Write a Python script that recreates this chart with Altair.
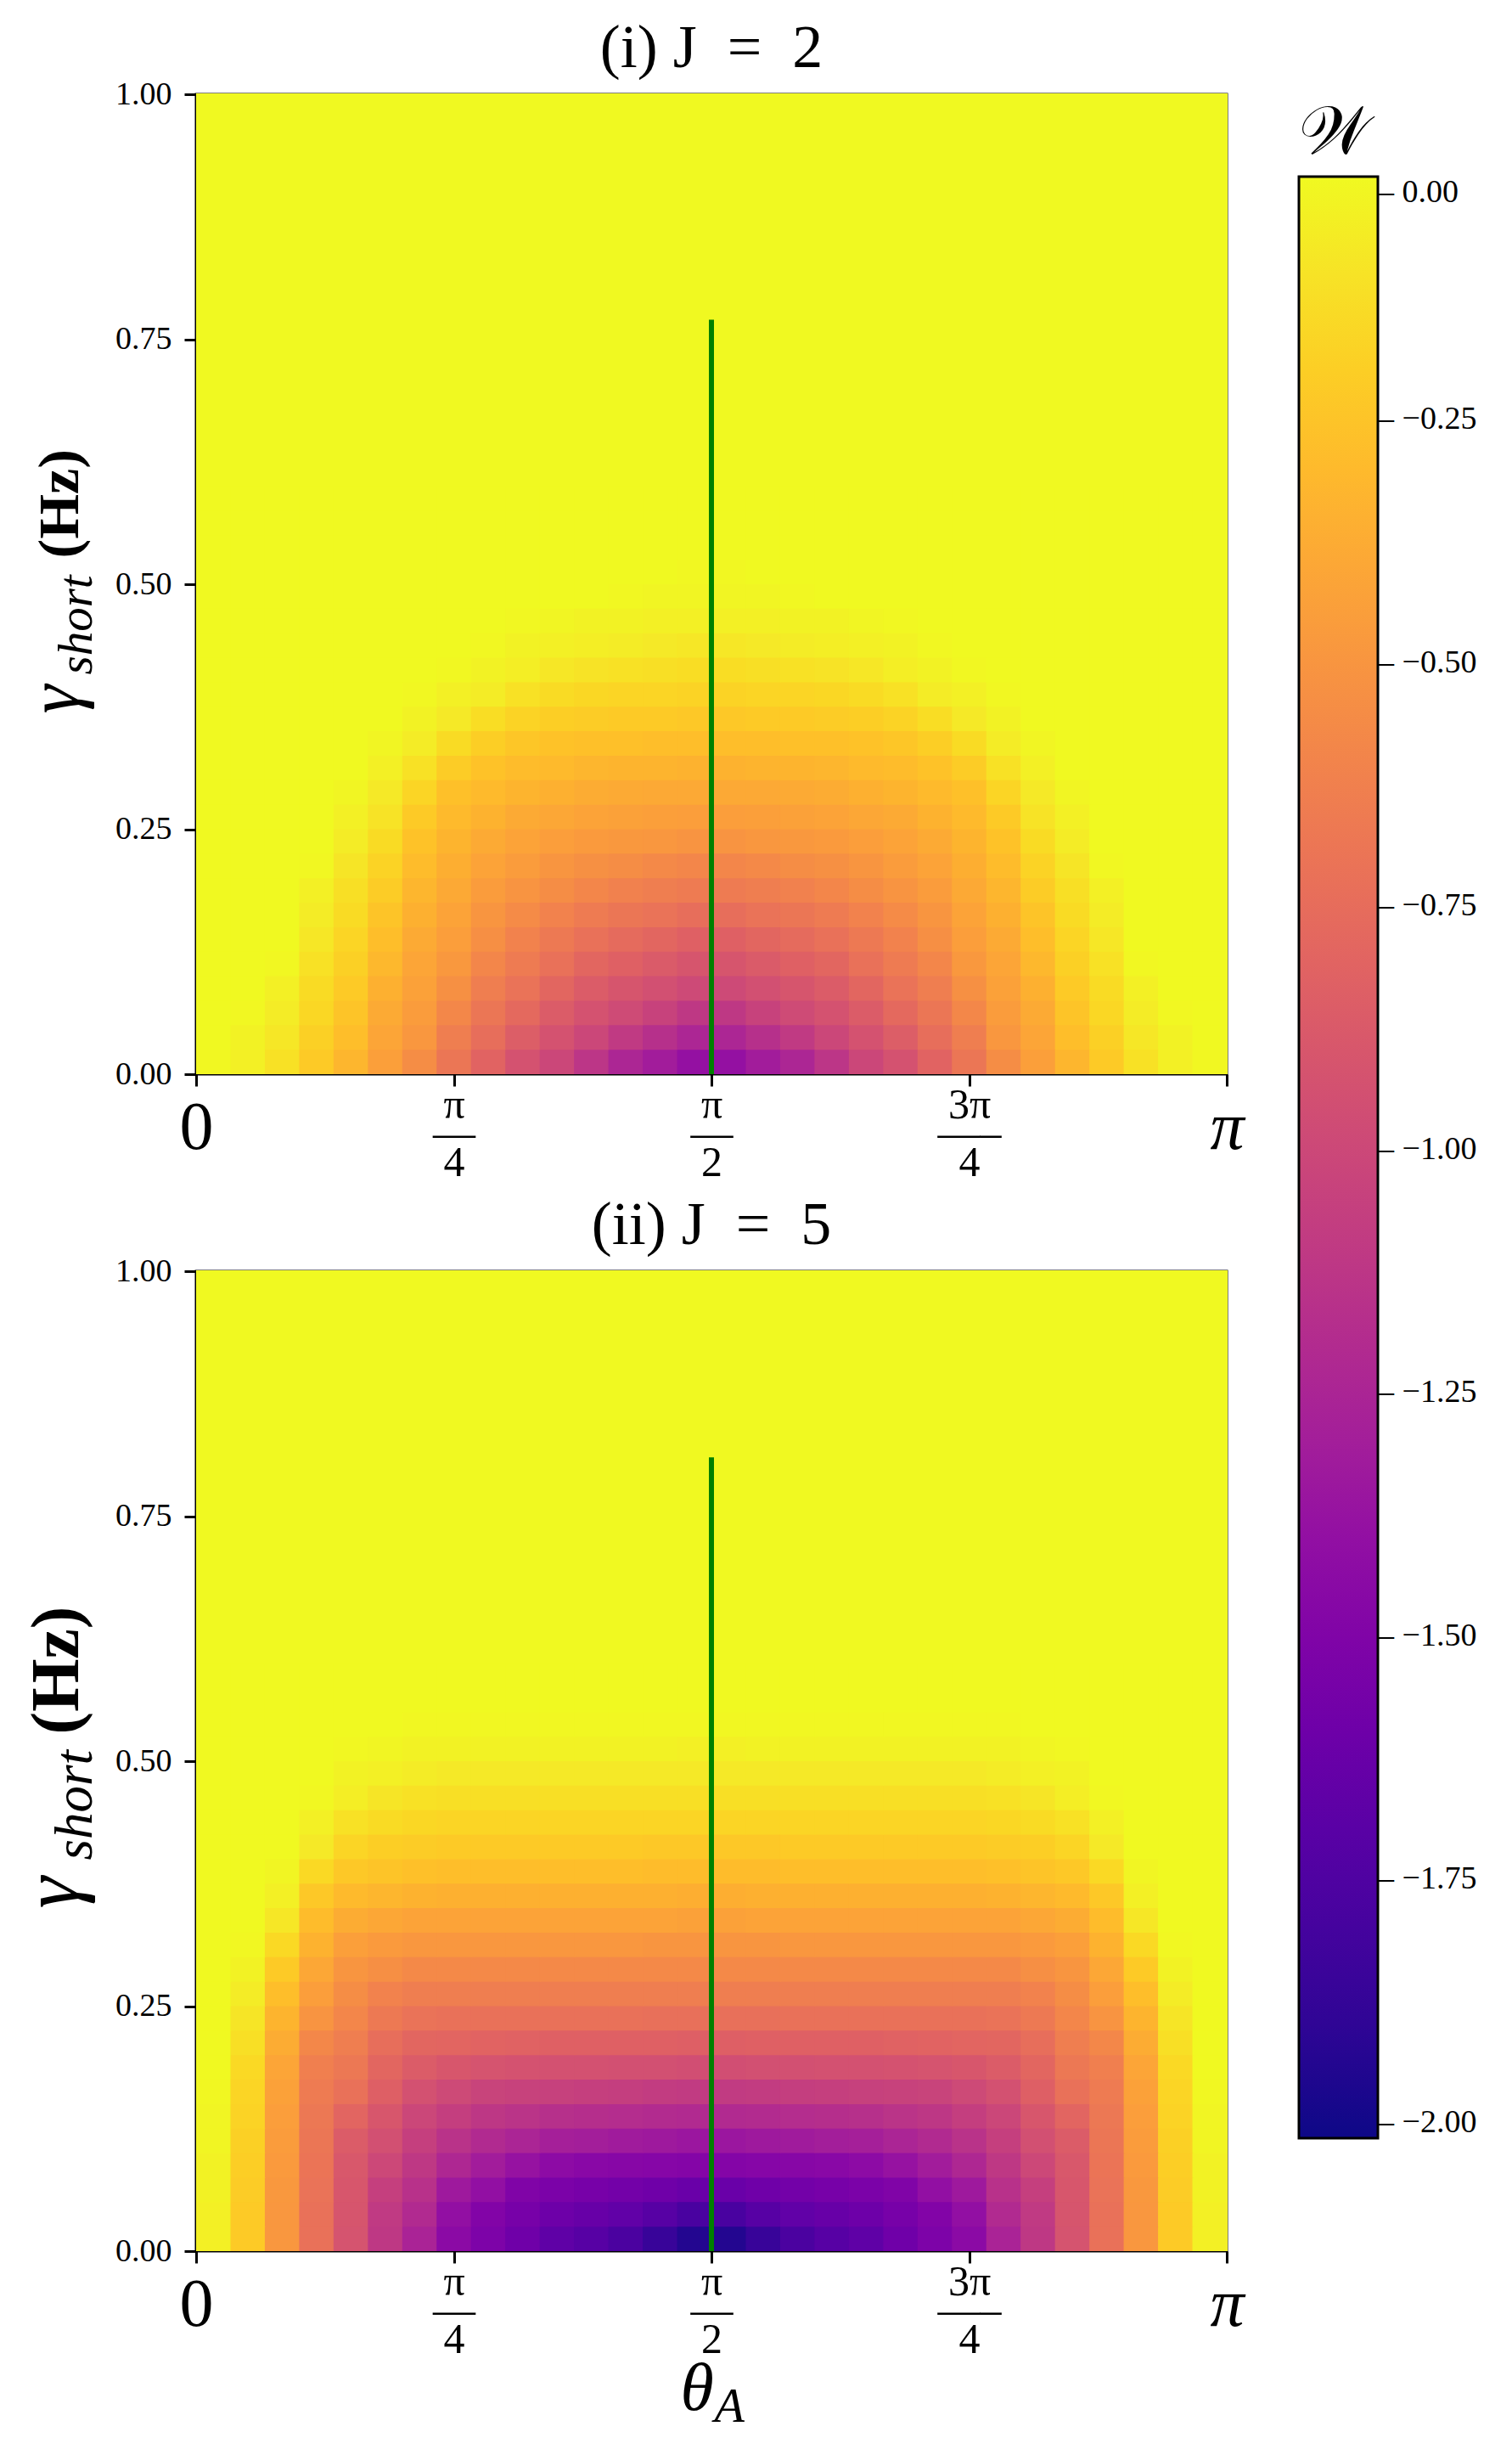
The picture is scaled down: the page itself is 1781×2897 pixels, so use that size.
import math
import pandas as pd
import altair as alt

PI = math.pi
FONT = "Liberation Serif"

# ---------------- data ----------------
N_HALF = 15                      # columns from theta = 0 to pi/2 (map is symmetric about pi/2)
N_COLS = 2 * N_HALF
THETA_EDGES = [PI * k / N_COLS for k in range(N_COLS + 1)]
GAMMA_EDGES = [0.025 * i for i in range(25)]     # 0 ... 0.6
TOP_BAND = [0.6, 1.0]                            # gamma band that is uniformly zero

# W values, rows = gamma bands (0-0.025, 0.025-0.05, ...), cols = theta from 0 to pi/2
W_J2_HALF = [
    [-0.01, -0.04, -0.11, -0.22, -0.32, -0.44, -0.55, -0.69, -0.81, -0.93, -1.01, -1.13, -1.24, -1.31, -1.39],
    [0.00, -0.03, -0.08, -0.19, -0.28, -0.41, -0.49, -0.64, -0.74, -0.85, -0.93, -1.01, -1.10, -1.17, -1.24],
    [0.00, -0.01, -0.06, -0.16, -0.25, -0.38, -0.46, -0.58, -0.69, -0.77, -0.86, -0.93, -0.98, -1.04, -1.11],
    [0.00, 0.00, -0.04, -0.14, -0.22, -0.35, -0.43, -0.53, -0.64, -0.71, -0.79, -0.86, -0.91, -0.95, -0.99],
    [0.00, 0.00, -0.01, -0.11, -0.19, -0.31, -0.41, -0.48, -0.59, -0.66, -0.72, -0.79, -0.83, -0.87, -0.91],
    [0.00, 0.00, 0.00, -0.08, -0.17, -0.28, -0.38, -0.45, -0.54, -0.61, -0.67, -0.72, -0.76, -0.79, -0.83],
    [0.00, 0.00, 0.00, -0.06, -0.14, -0.25, -0.35, -0.42, -0.50, -0.56, -0.61, -0.66, -0.69, -0.71, -0.74],
    [0.00, 0.00, 0.00, -0.04, -0.12, -0.21, -0.32, -0.39, -0.46, -0.51, -0.55, -0.59, -0.62, -0.64, -0.66],
    [0.00, 0.00, 0.00, -0.01, -0.09, -0.18, -0.29, -0.36, -0.42, -0.46, -0.50, -0.53, -0.55, -0.57, -0.59],
    [0.00, 0.00, 0.00, 0.00, -0.06, -0.14, -0.26, -0.33, -0.38, -0.42, -0.45, -0.47, -0.48, -0.49, -0.51],
    [0.00, 0.00, 0.00, 0.00, -0.04, -0.10, -0.22, -0.30, -0.34, -0.38, -0.40, -0.42, -0.43, -0.44, -0.45],
    [0.00, 0.00, 0.00, 0.00, -0.02, -0.07, -0.17, -0.27, -0.30, -0.33, -0.35, -0.37, -0.38, -0.39, -0.39],
    [0.00, 0.00, 0.00, 0.00, 0.00, -0.04, -0.11, -0.21, -0.26, -0.29, -0.30, -0.32, -0.33, -0.33, -0.34],
    [0.00, 0.00, 0.00, 0.00, 0.00, -0.02, -0.06, -0.14, -0.20, -0.24, -0.26, -0.27, -0.27, -0.28, -0.28],
    [0.00, 0.00, 0.00, 0.00, 0.00, 0.00, -0.03, -0.07, -0.13, -0.18, -0.20, -0.21, -0.22, -0.22, -0.23],
    [0.00, 0.00, 0.00, 0.00, 0.00, 0.00, -0.01, -0.04, -0.06, -0.11, -0.14, -0.16, -0.17, -0.17, -0.18],
    [0.00, 0.00, 0.00, 0.00, 0.00, 0.00, 0.00, -0.01, -0.03, -0.05, -0.08, -0.10, -0.11, -0.12, -0.13],
    [0.00, 0.00, 0.00, 0.00, 0.00, 0.00, 0.00, 0.00, -0.01, -0.03, -0.04, -0.05, -0.06, -0.07, -0.08],
    [0.00, 0.00, 0.00, 0.00, 0.00, 0.00, 0.00, 0.00, 0.00, -0.01, -0.02, -0.03, -0.03, -0.04, -0.04],
    [0.00, 0.00, 0.00, 0.00, 0.00, 0.00, 0.00, 0.00, 0.00, 0.00, 0.00, 0.00, -0.01, -0.02, -0.02],
    [0.00, 0.00, 0.00, 0.00, 0.00, 0.00, 0.00, 0.00, 0.00, 0.00, 0.00, 0.00, 0.00, 0.00, -0.01],
    [0.00, 0.00, 0.00, 0.00, 0.00, 0.00, 0.00, 0.00, 0.00, 0.00, 0.00, 0.00, 0.00, 0.00, 0.00],
    [0.00, 0.00, 0.00, 0.00, 0.00, 0.00, 0.00, 0.00, 0.00, 0.00, 0.00, 0.00, 0.00, 0.00, 0.00],
    [0.00, 0.00, 0.00, 0.00, 0.00, 0.00, 0.00, 0.00, 0.00, 0.00, 0.00, 0.00, 0.00, 0.00, 0.00],
]

W_J5_HALF = [
    [-0.04, -0.22, -0.49, -0.72, -0.92, -1.11, -1.26, -1.44, -1.52, -1.59, -1.67, -1.71, -1.77, -1.86, -1.95],
    [-0.04, -0.22, -0.49, -0.72, -0.91, -1.10, -1.21, -1.40, -1.49, -1.55, -1.60, -1.63, -1.66, -1.71, -1.78],
    [-0.03, -0.21, -0.48, -0.71, -0.90, -1.06, -1.16, -1.33, -1.40, -1.50, -1.53, -1.55, -1.57, -1.59, -1.62],
    [-0.03, -0.20, -0.47, -0.70, -0.89, -1.00, -1.11, -1.23, -1.31, -1.38, -1.43, -1.45, -1.46, -1.47, -1.48],
    [-0.02, -0.19, -0.46, -0.69, -0.86, -0.95, -1.06, -1.15, -1.21, -1.25, -1.29, -1.30, -1.32, -1.33, -1.35],
    [-0.02, -0.18, -0.45, -0.68, -0.80, -0.90, -1.01, -1.07, -1.12, -1.14, -1.17, -1.18, -1.19, -1.20, -1.21],
    [-0.01, -0.17, -0.43, -0.66, -0.72, -0.84, -0.94, -0.99, -1.03, -1.04, -1.05, -1.06, -1.07, -1.08, -1.09],
    [0.00, -0.15, -0.41, -0.63, -0.68, -0.79, -0.86, -0.90, -0.92, -0.93, -0.94, -0.94, -0.95, -0.95, -0.96],
    [0.00, -0.12, -0.37, -0.58, -0.64, -0.74, -0.79, -0.80, -0.81, -0.82, -0.83, -0.83, -0.83, -0.83, -0.84],
    [0.00, -0.09, -0.33, -0.51, -0.59, -0.67, -0.71, -0.72, -0.72, -0.72, -0.72, -0.72, -0.72, -0.73, -0.73],
    [0.00, -0.06, -0.28, -0.45, -0.55, -0.61, -0.64, -0.64, -0.64, -0.64, -0.64, -0.64, -0.64, -0.64, -0.64],
    [0.00, -0.03, -0.22, -0.40, -0.50, -0.54, -0.57, -0.57, -0.57, -0.57, -0.57, -0.57, -0.57, -0.57, -0.57],
    [0.00, -0.01, -0.15, -0.34, -0.44, -0.47, -0.49, -0.49, -0.49, -0.49, -0.49, -0.49, -0.49, -0.50, -0.50],
    [0.00, 0.00, -0.08, -0.29, -0.37, -0.40, -0.42, -0.42, -0.42, -0.42, -0.42, -0.42, -0.42, -0.42, -0.43],
    [0.00, 0.00, -0.04, -0.23, -0.30, -0.32, -0.34, -0.35, -0.35, -0.35, -0.35, -0.35, -0.35, -0.35, -0.36],
    [0.00, 0.00, -0.02, -0.15, -0.23, -0.25, -0.27, -0.28, -0.28, -0.28, -0.28, -0.28, -0.28, -0.29, -0.29],
    [0.00, 0.00, 0.00, -0.07, -0.17, -0.20, -0.21, -0.22, -0.22, -0.22, -0.22, -0.22, -0.22, -0.23, -0.23],
    [0.00, 0.00, 0.00, -0.04, -0.11, -0.14, -0.16, -0.17, -0.17, -0.17, -0.17, -0.17, -0.17, -0.17, -0.17],
    [0.00, 0.00, 0.00, -0.01, -0.05, -0.09, -0.11, -0.12, -0.12, -0.12, -0.12, -0.12, -0.12, -0.12, -0.12],
    [0.00, 0.00, 0.00, 0.00, -0.03, -0.04, -0.06, -0.07, -0.07, -0.07, -0.07, -0.07, -0.07, -0.07, -0.07],
    [0.00, 0.00, 0.00, 0.00, -0.01, -0.02, -0.03, -0.03, -0.03, -0.03, -0.03, -0.03, -0.03, -0.03, -0.04],
    [0.00, 0.00, 0.00, 0.00, 0.00, 0.00, -0.01, -0.01, -0.01, -0.01, -0.01, -0.01, -0.01, -0.01, -0.01],
    [0.00, 0.00, 0.00, 0.00, 0.00, 0.00, 0.00, 0.00, 0.00, 0.00, 0.00, 0.00, 0.00, 0.00, 0.00],
    [0.00, 0.00, 0.00, 0.00, 0.00, 0.00, 0.00, 0.00, 0.00, 0.00, 0.00, 0.00, 0.00, 0.00, 0.00],
]

TOP_W = [0.0, 0.0]               # value of the gamma 0.6-1.0 band in panels (i), (ii)

PANEL_TITLES = ["(i) J\u2002=\u20022", "(ii) J\u2002=\u20025"]
LINE_THETA = PI / 2
LINE_TOPS = [0.77, 0.81]
X_TICKS = [0.0, PI / 4, PI / 2, 3 * PI / 4, PI]
Y_TICKS = [0.0, 0.25, 0.5, 0.75, 1.0]
CBAR_TICKS = [0.0, -0.25, -0.5, -0.75, -1.0, -1.25, -1.5, -1.75, -2.0]
W_MIN = -2.016


def full_row(half):
    return list(half) + list(half[::-1])


def grid_frame(rows):
    recs = []
    for r, half in enumerate(rows):
        for k, v in enumerate(full_row(half)):
            recs.append({"t0": THETA_EDGES[k], "t1": THETA_EDGES[k + 1],
                         "g0": GAMMA_EDGES[r], "g1": GAMMA_EDGES[r + 1], "W": v})
    return pd.DataFrame(recs)


def top_frame(value):
    return pd.DataFrame([{"t0": THETA_EDGES[0], "t1": THETA_EDGES[-1],
                          "g0": TOP_BAND[0], "g1": TOP_BAND[1], "W": value}])


# ---------------- styling ----------------
PLOT_W, PLOT_H = 1214, 1154
xs = alt.Scale(domain=[0, PI], nice=False, zero=False)
ys = alt.Scale(domain=[0, 1], nice=False, zero=False)
cs = alt.Scale(scheme="plasma", domain=[W_MIN, 0])

LEGEND = alt.Legend(
    type="gradient",
    orient="none", legendX=1299, legendY=7, direction="vertical",
    gradientLength=2310, gradientThickness=93,
    gradientStrokeColor="black", gradientStrokeWidth=3,
    values=CBAR_TICKS,
    labelExpr="'\u2013 ' + replace(format(datum.value, '.2f'), '-', '\u2212')",
    labelFont=FONT, labelFontSize=38, labelColor="black", labelOffset=0,
    labelBaseline="middle", labelOverlap=False, labelLimit=300,
    title="\U0001D4B2", titleFont=FONT, titleFontSize=80, titleFontWeight="normal",
    titleColor="black", titlePadding=10, titleAlign="left",
)

X_LABEL_EXPR = ("datum.value < 0.1 ? '0' : datum.value > 3.1 ? '\u03c0' : "
                "datum.value < 1 ? ['\u03c0', '\u2014', '4'] : "
                "datum.value < 2 ? ['\u03c0', '\u2014', '2'] : ['3\u03c0', '\u2014\u2013', '4']")
BIG_LABEL_TEST = "datum.value < 0.1 || datum.value > 3.1"


def x_main_axis(with_title):
    kw = dict(
        orient="bottom", values=X_TICKS, labelExpr=X_LABEL_EXPR,
        labelFontSize={"condition": {"test": BIG_LABEL_TEST, "value": 80}, "value": 50},
        labelPadding={"condition": {"test": BIG_LABEL_TEST, "value": 49}, "value": 22},
        labelFontStyle={"condition": {"test": "datum.value > 3.1", "value": "italic"}, "value": "normal"},
        labelLineHeight=34, labelBaseline="middle", labelAngle=0,
        labelFlush=False, labelOverlap=False, labelFont=FONT, labelColor="black",
        tickSize=14, tickWidth=3, tickColor="black", domain=False, grid=False,
    )
    if with_title:
        kw.update(title="\u03b8", titleFont=FONT, titleFontSize=80, titleFontStyle="italic",
                  titleFontWeight="normal", titleColor="black", titleX=570, titleY=186,
                  titleAlign="left", titleBaseline="alphabetic")
    else:
        kw.update(title="")
    return alt.Axis(**kw)


def y_piece_axis(text, size, weight, style, tx, ty, main=False):
    kw = dict(orient="left", title=text, titleFont=FONT, titleFontSize=size,
              titleFontWeight=weight, titleFontStyle=style, titleColor="black",
              titleAngle=270, titleAlign="left", titleBaseline="alphabetic",
              titleX=tx, titleY=ty, grid=False, domain=False)
    if main:
        kw.update(values=Y_TICKS, format=".2f", labelFont=FONT, labelFontSize=38,
                  labelColor="black", labelPadding=15, tickSize=14, tickWidth=3,
                  tickColor="black", labelFlush=False, labelOverlap=False)
    else:
        kw.update(labels=False, ticks=False)
    return alt.Axis(**kw)


# layout of the y-title pieces: (size, titleY)
Y_TITLE_LAYOUT = [
    {"hz": (68, 546), "short": (57, 683), "gamma": (86, 729)},
    {"hz": (80, 545), "short": (63, 693), "gamma": (95, 750)},
]


def panel(i, rows):
    lay = Y_TITLE_LAYOUT[i]
    bottom = (i == 1)
    grid = alt.Chart(grid_frame(rows)).mark_rect(x2Offset=1, y2Offset=-1).encode(
        x=alt.X("t0:Q", scale=xs, axis=x_main_axis(bottom)),
        x2="t1:Q",
        y=alt.Y("g0:Q", scale=ys, axis=y_piece_axis("(Hz)", lay["hz"][0], "bold", "normal",
                                                    -140, lay["hz"][1], main=True)),
        y2="g1:Q",
        color=alt.Color("W:Q", scale=cs, legend=LEGEND),
    )
    top = alt.Chart(top_frame(TOP_W[i])).mark_rect(x2Offset=1, y2Offset=-1).encode(
        x=alt.X("t0:Q", scale=xs, axis=None),
        x2="t1:Q",
        y=alt.Y("g0:Q", scale=ys, axis=y_piece_axis("short", lay["short"][0], "normal", "italic",
                                                    -124, lay["short"][1])),
        y2="g1:Q",
        color=alt.Color("W:Q", scale=cs, legend=LEGEND),
    )
    if bottom:
        rule_x_axis = alt.Axis(orient="bottom", labels=False, ticks=False, domain=False, grid=False,
                               title="A", titleFont=FONT, titleFontSize=58, titleFontStyle="italic",
                               titleFontWeight="normal", titleColor="black", titleX=610, titleY=200,
                               titleAlign="left", titleBaseline="alphabetic")
    else:
        rule_x_axis = None
    line_df = pd.DataFrame({"theta": [LINE_THETA], "g_lo": [0.0], "g_hi": [LINE_TOPS[i]]})
    rule = alt.Chart(line_df).mark_rule(color="green", strokeWidth=6).encode(
        x=alt.X("theta:Q", scale=xs, axis=rule_x_axis),
        y=alt.Y("g_lo:Q", scale=ys, axis=y_piece_axis("\u03b3", lay["gamma"][0], "normal", "italic",
                                                      -140, lay["gamma"][1])),
        y2="g_hi:Q",
    )
    return alt.layer(grid, top, rule).resolve_axis(x="independent", y="independent").properties(
        width=PLOT_W, height=PLOT_H,
        title=alt.TitleParams(PANEL_TITLES[i], font=FONT, fontSize=72, fontWeight="normal",
                              color="black", offset=-59, baseline="alphabetic", anchor="middle"),
    )


chart = alt.vconcat(
    panel(0, W_J2_HALF),
    panel(1, W_J5_HALF),
    spacing=232, bounds="flush",
).resolve_scale(color="shared").properties(
    padding={"left": 5, "top": 11, "right": 5, "bottom": 5},
    background="white",
).configure_view(stroke="black", strokeWidth=3)

chart.save("out.html", embed_options={"renderer": "svg", "actions": False})
